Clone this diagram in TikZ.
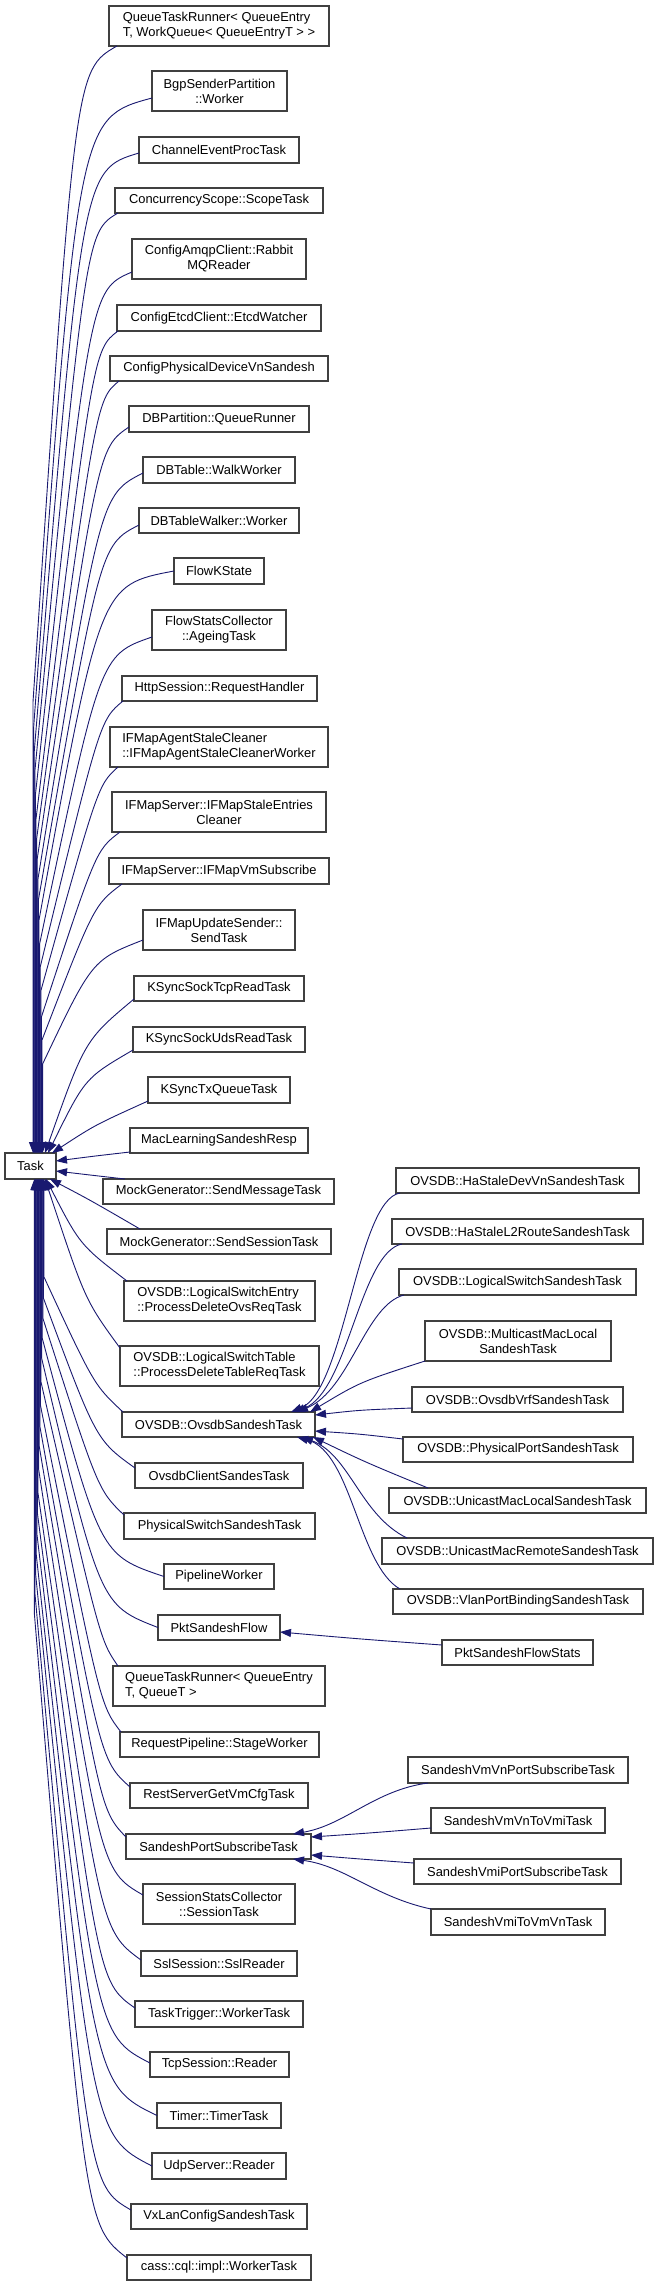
\documentclass[tikz,border=0pt]{standalone}
\usepackage{fontspec}
\setmainfont{Liberation Sans}
\usetikzlibrary{arrows.meta}
\definecolor{edgeblue}{HTML}{191970}
\definecolor{boxgray}{HTML}{404040}
\tikzset{
  box/.style={draw=boxgray, line width=1.2pt, fill=white, inner sep=0pt, outer sep=0pt,
    font=\fontsize{12.9}{15}\selectfont, align=center},
  lbox/.style={box, align=left},
  edge/.style={draw=edgeblue, line width=0.9pt, -{Triangle[length=11pt,width=8pt]}},
}
\newcommand\bx[7][box]{\node[#1,minimum width=#5pt,minimum height=#6pt] (#2) at (#3,#4) {#7};}
\newcommand\upe[6]{\draw[edge] (#1) .. controls (#2,#3) and (#2,#3) .. (#4,#5) -- ([xshift=#6pt]task.north west);}
\newcommand\loe[6]{\draw[edge] (#1) .. controls (#2,#3) and (#2,#3) .. (#4,#5) -- ([xshift=#6pt]task.south west);}
\newcommand\nre[4]{\draw[edge] (#1) .. controls (#2,#3) and (#2,#3) .. (#4);}
\begin{document}
\begin{tikzpicture}[x=1pt,y=-1pt]
\useasboundingbox (0,0) rectangle (659,2286);
\fill[white] (0,0) rectangle (659,2286);
% base
\bx{task}{30.5}{1166}{51}{26}{Task}
% middle column
\bx[lbox]{c1}{219}{26}{220}{40}{QueueTaskRunner< QueueEntry\\T, WorkQueue< QueueEntryT > >}
\bx{c2}{219.5}{91}{135}{40}{BgpSenderPartition\\::Worker}
\bx{c3}{219}{150}{160}{26}{ChannelEventProcTask}
\bx{c4}{219}{200.5}{208}{25}{ConcurrencyScope::ScopeTask}
\bx{c5}{219}{259}{174}{40}{ConfigAmqpClient::Rabbit\\MQReader}
\bx{c6}{219}{318}{204}{26}{ConfigEtcdClient::EtcdWatcher}
\bx{c7}{219}{368.5}{218}{25}{ConfigPhysicalDeviceVnSandesh}
\bx{c8}{219}{419}{180}{26}{DBPartition::QueueRunner}
\bx{c9}{219}{470}{152}{26}{DBTable::WalkWorker}
\bx{c10}{219}{520.5}{160}{25}{DBTableWalker::Worker}
\bx{c11}{219}{571}{90}{26}{FlowKState}
\bx{c12}{219}{630}{134}{40}{FlowStatsCollector\\::AgeingTask}
\bx{c13}{219.5}{688.5}{195}{25}{HttpSession::RequestHandler}
\bx[lbox]{c14}{219}{747}{218}{40}{IFMapAgentStaleCleaner\\::IFMapAgentStaleCleanerWorker}
\bx{c15}{219}{812}{214}{40}{IFMapServer::IFMapStaleEntries\\Cleaner}
\bx{c16}{219}{871}{220}{26}{IFMapServer::IFMapVmSubscribe}
\bx{c17}{219}{930}{152}{40}{IFMapUpdateSender::\\SendTask}
\bx{c18}{219}{988.5}{170}{25}{KSyncSockTcpReadTask}
\bx{c19}{219}{1039.5}{172}{25}{KSyncSockUdsReadTask}
\bx{c20}{219}{1090}{142}{26}{KSyncTxQueueTask}
\bx{c21}{219}{1140.5}{178}{25}{MacLearningSandeshResp}
\bx{c22}{218.5}{1191.5}{231}{25}{MockGenerator::SendMessageTask}
\bx{c23}{219}{1241.5}{224}{25}{MockGenerator::SendSessionTask}
\bx[lbox]{c24}{219.5}{1301}{191}{40}{OVSDB::LogicalSwitchEntry\\::ProcessDeleteOvsReqTask}
\bx[lbox]{c25}{219.5}{1366}{199}{40}{OVSDB::LogicalSwitchTable\\::ProcessDeleteTableReqTask}
\bx{c26}{218.5}{1424.5}{193}{25}{OVSDB::OvsdbSandeshTask}
\bx{c27}{219}{1475.5}{168}{25}{OvsdbClientSandesTask}
\bx{c28}{219.5}{1526}{191}{26}{PhysicalSwitchSandeshTask}
\bx{c29}{219}{1576.5}{110}{25}{PipelineWorker}
\bx{c30}{219}{1627.5}{122}{25}{PktSandeshFlow}
\bx[lbox]{c31}{219}{1686}{212}{40}{QueueTaskRunner< QueueEntry\\T, QueueT >}
\bx{c32}{219.5}{1744.5}{199}{25}{RequestPipeline::StageWorker}
\bx{c33}{219}{1795.5}{178}{25}{RestServerGetVmCfgTask}
\bx{c34}{218.5}{1846.5}{185}{25}{SandeshPortSubscribeTask}
\bx{c35}{219}{1904}{152}{40}{SessionStatsCollector\\::SessionTask}
\bx{c36}{219}{1963.5}{156}{25}{SslSession::SslReader}
\bx{c37}{219}{2014}{168}{26}{TaskTrigger::WorkerTask}
\bx{c38}{219.5}{2064.5}{139}{25}{TcpSession::Reader}
\bx{c39}{219}{2115.5}{124}{25}{Timer::TimerTask}
\bx{c40}{219}{2166}{134}{26}{UdpServer::Reader}
\bx{c41}{219}{2216.5}{176}{25}{VxLanConfigSandeshTask}
\bx{c42}{219}{2267.5}{184}{25}{cass::cql::impl::WorkerTask}
% right column
\bx{r1}{517.5}{1180.5}{243}{25}{OVSDB::HaStaleDevVnSandeshTask}
\bx{r2}{517.5}{1231.5}{251}{25}{OVSDB::HaStaleL2RouteSandeshTask}
\bx{r3}{517.5}{1282}{237}{26}{OVSDB::LogicalSwitchSandeshTask}
\bx{r4}{518}{1341}{186}{40}{OVSDB::MulticastMacLocal\\SandeshTask}
\bx{r5}{517.5}{1399.5}{211}{25}{OVSDB::OvsdbVrfSandeshTask}
\bx{r6}{518}{1449.5}{230}{25}{OVSDB::PhysicalPortSandeshTask}
\bx{r7}{517.5}{1500.5}{257}{25}{OVSDB::UnicastMacLocalSandeshTask}
\bx{r8}{517.5}{1551}{271}{26}{OVSDB::UnicastMacRemoteSandeshTask}
\bx{r9}{518}{1601.5}{250}{25}{OVSDB::VlanPortBindingSandeshTask}
\bx{p}{517.5}{1652.5}{151}{25}{PktSandeshFlowStats}
\bx{s1}{518}{1770}{220}{26}{SandeshVmVnPortSubscribeTask}
\bx{s2}{518}{1820.5}{174}{25}{SandeshVmVnToVmiTask}
\bx{s3}{517.5}{1871.5}{207}{25}{SandeshVmiPortSubscribeTask}
\bx{s4}{518}{1922}{174}{26}{SandeshVmiToVmVnTask}
% edges to Task from above
\upe{[xshift=8pt]c1.south west}{75}{70}{33}{702}{28}
\upe{[yshift=13pt]c2.south west}{78}{118}{33.6}{728}{28.6}
\upe{[yshift=10pt]c3.south west}{82}{170}{34.2}{752}{29.2}
\upe{[xshift=3pt]c4.south west}{86}{232}{34.8}{772}{29.8}
\upe{[yshift=7pt]c5.south west}{90}{290}{35.4}{795}{30.4}
\upe{[xshift=1pt]c6.south west}{93}{350}{36}{819}{31}
\upe{[xshift=9pt]c7.south west}{96}{400}{36.6}{839}{31.6}
\upe{[yshift=5pt]c8.south west}{98}{448}{37.2}{859}{32.2}
\upe{[yshift=10pt]c9.south west}{100}{495}{37.8}{880}{32.8}
\upe{[yshift=8pt]c10.south west}{100}{545}{38.4}{900}{33.4}
\upe{c11.west}{100}{585}{39}{920}{34}
\upe{[yshift=13pt]c12.south west}{100}{655}{39.6}{944}{34.6}
\upe{[xshift=1pt]c13.south west}{100}{720}{40.2}{967}{35.2}
\upe{[xshift=8pt]c14.south west}{98}{785}{40.8}{991}{35.8}
\upe{[xshift=8pt]c15.south west}{96}{850}{41.4}{1017}{36.4}
\upe{[xshift=13pt]c16.south west}{94}{905}{42}{1040}{37}
\upe{[yshift=10pt]c17.south west}{92}{960}{42.6}{1064}{37.6}
% near edges
\nre{[yshift=2pt]c18.south west}{85}{1040}{[xshift=40pt]task.north west}
\nre{[yshift=2pt]c19.south west}{85}{1078}{[xshift=43pt]task.north west}
\nre{[yshift=2pt]c20.south west}{95}{1125}{[xshift=47pt]task.north west}
\nre{[yshift=1pt]c21.south west}{95}{1156}{[yshift=5pt]task.east}
\nre{[xshift=22pt]c22.north west}{90}{1175}{[yshift=-5pt]task.east}
\nre{[xshift=33pt]c23.north west}{90}{1200}{[xshift=45pt]task.south west}
\nre{[xshift=3pt]c24.north west}{80}{1245}{[xshift=41pt]task.south west}
\nre{[yshift=-2pt]c25.north west}{85}{1300}{[xshift=40pt]task.south west}
% edges to Task from below
\loe{[xshift=1pt]c26.north west}{94}{1385}{44}{1277}{39}
\loe{[yshift=-5pt]c27.north west}{96}{1440}{43.4}{1298}{38.4}
\loe{[yshift=-2pt]c28.north west}{98}{1490}{42.8}{1318}{37.8}
\loe{c29.west}{100}{1555}{42.2}{1338}{37.2}
\loe{c30.west}{100}{1605}{41.6}{1358}{36.6}
\loe{[xshift=5pt]c31.north west}{100}{1640}{41}{1382}{36}
\loe{[xshift=1pt]c32.north west}{100}{1705}{40.4}{1405}{35.4}
\loe{[yshift=-4pt]c33.north west}{100}{1760}{39.8}{1426}{34.8}
\loe{[yshift=-3pt]c34.north west}{100}{1810}{39.2}{1446}{34.2}
\loe{[yshift=-11pt]c35.north west}{100}{1870}{38.6}{1469}{33.6}
\loe{[yshift=-9pt]c36.north west}{100}{1930}{38}{1493}{33}
\loe{[yshift=-7pt]c37.north west}{98}{1982}{37.4}{1513}{32.4}
\loe{[yshift=-11pt]c38.north west}{96}{2035}{36.8}{1533}{31.8}
\loe{c39.west}{94}{2085}{36.2}{1554}{31.2}
\loe{c40.west}{92}{2135}{35.6}{1574}{30.6}
\loe{[yshift=-6pt]c41.north west}{88}{2185}{35}{1594}{30}
\loe{[yshift=-3pt]c42.north west}{85}{2225}{34.4}{1614}{29.4}
% edges to OVSDB::OvsdbSandeshTask
\draw[edge] ([xshift=4pt]r1.south west) .. controls (357,1200) and (345,1390) .. ([xshift=169pt]c26.north west);
\draw[edge] ([xshift=10pt]r2.south west) .. controls (360,1252) and (348,1392) .. ([xshift=172pt]c26.north west);
\draw[edge] ([xshift=5pt]r3.south west) .. controls (365,1305) and (350,1390) .. ([xshift=175pt]c26.north west);
\draw[edge] (r4.south west) .. controls (360,1382) and (360,1382) .. ([xshift=188pt]c26.north west);
\draw[edge] ([yshift=4pt]r5.south west) .. controls (360,1410) and (360,1410) .. ([yshift=9.5pt]c26.east);
\draw[edge] ([yshift=-2pt]r6.north west) .. controls (360,1434) and (360,1434) .. ([yshift=-6.5pt]c26.east);
\draw[edge] ([xshift=39pt]r7.north west) .. controls (365,1462) and (365,1462) .. ([xshift=191pt]c26.south west);
\draw[edge] ([xshift=25pt]r8.north west) .. controls (360,1515) and (350,1455) .. ([xshift=180pt]c26.south west);
\draw[edge] ([xshift=7pt]r9.north west) .. controls (358,1565) and (352,1452) .. ([xshift=175pt]c26.south west);
% PktSandeshFlowStats
\draw[edge] ([yshift=7.5pt]p.west) .. controls (360,1639) and (360,1639) .. ([yshift=-4.5pt]c30.east);
% edges to SandeshPortSubscribeTask
\draw[edge] ([xshift=20pt]s1.south west) .. controls (375,1790) and (345,1825) .. ([xshift=167pt]c34.north west);
\draw[edge] ([yshift=5pt]s2.south west) .. controls (370,1833) and (370,1833) .. ([yshift=9.5pt]c34.east);
\draw[edge] ([yshift=-4pt]s3.north west) .. controls (360,1859) and (360,1859) .. ([yshift=-8.5pt]c34.east);
\draw[edge] (s4.north west) .. controls (375,1897) and (345,1866) .. ([xshift=167pt]c34.south west);
\end{tikzpicture}
\end{document}
